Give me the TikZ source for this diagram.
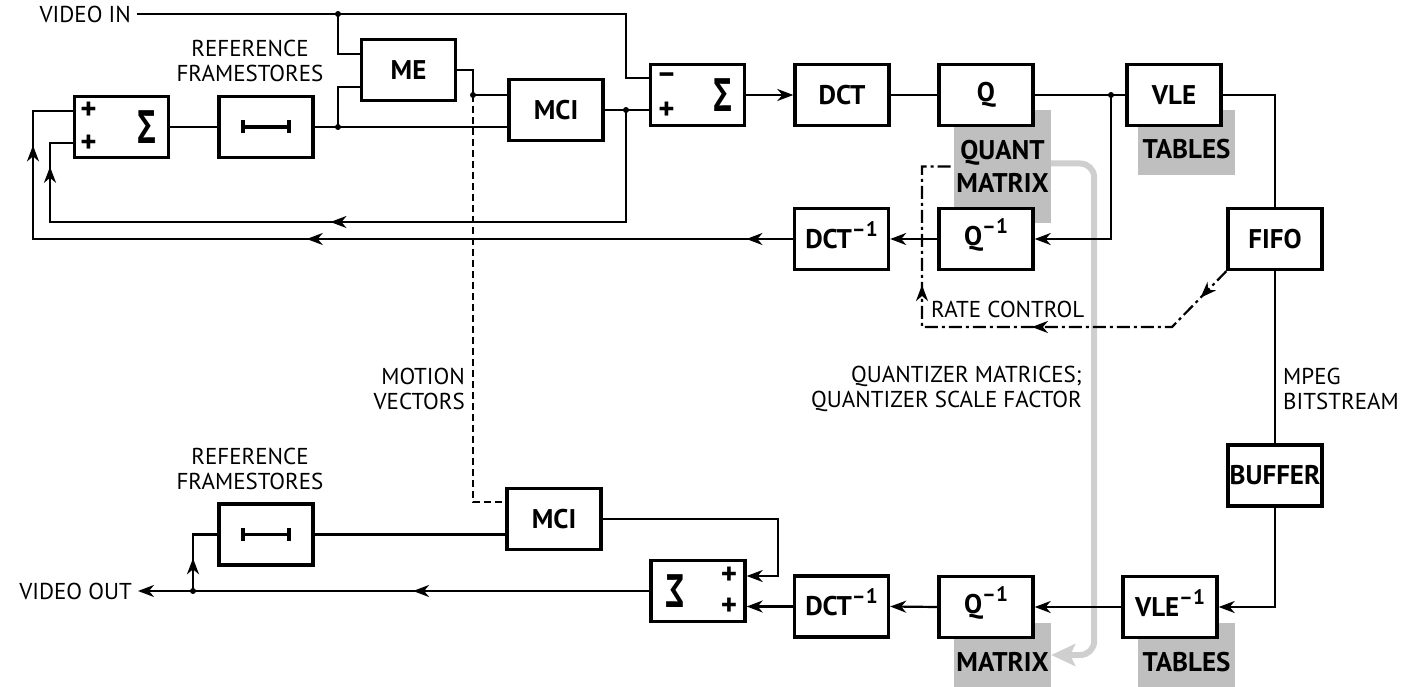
\documentclass[tikz,border=0pt]{standalone}
\usepackage{fontspec}
\usepackage{graphicx}
\setmainfont{PT Sans}
\newfontfamily\greekfont{Open Sans}
\usetikzlibrary{arrows.meta,decorations.markings}

\definecolor{boxgray}{gray}{0.75}
\definecolor{pathgray}{gray}{0.81}

\newcommand{\lbl}{\fontsize{23}{25}\selectfont}
\newcommand{\bx}{\fontsize{27}{33}\selectfont\bfseries}
\newcommand{\inv}{\smash{\raisebox{12pt}{\fontsize{21}{21}\selectfont –1}}}
\newcommand{\sgm}{\scalebox{0.8}[1.15]{\greekfont\bfseries\fontsize{40}{40}\selectfont Σ}}

\tikzset{
  block/.style={draw, line width=3.4pt, fill=white, minimum width=94pt, minimum height=61pt, inner sep=0pt, font=\bx},
  graybox/.style={fill=boxgray, minimum width=97pt, inner sep=0pt, font=\bx, align=center},
  wire/.style={line width=2.2pt},
  arr/.style={wire, -{Stealth[length=16pt,width=12pt,inset=5pt]}},
  arrowat/.style={postaction={decorate, decoration={markings, mark=at position #1 with {\arrow{Stealth[length=16pt,width=12pt,inset=5pt]}}}}},
  ctrl/.style={line width=2.2pt, dash pattern=on 13pt off 4pt on 3pt off 4pt},
  mvec/.style={line width=2.2pt, dash pattern=on 7pt off 4pt},
  txt/.style={font=\lbl, align=center, inner sep=0pt},
  sym/.style={font=\fontsize{31}{31}\selectfont\bfseries, inner sep=0pt},
}

\begin{document}
\begin{tikzpicture}[x=1pt,y=-1pt]
  \useasboundingbox (0,0) rectangle (1406,687);

  % tables behind the coders
  \node[graybox, minimum height=113pt] (qmat) at (1002.5,166.5) {QUANT\\MATRIX};
  \node[graybox, minimum height=65pt, label={[font=\bx,yshift=-6.5pt]center:TABLES}] (tab1) at (1186.5,142.5) {};
  \node[graybox, minimum height=64pt, label={[font=\bx,yshift=-7pt]center:MATRIX}] (mat2) at (1002.5,655) {};
  \node[graybox, minimum height=64pt, label={[font=\bx,yshift=-7pt]center:TABLES}] (tab2) at (1186.5,655) {};

  % side information to the decoder
  \draw[line width=6pt, pathgray, rounded corners=14pt, -{Stealth[length=24pt,width=22pt,inset=5pt]}] ([yshift=3pt]qmat.east) -- ++(43,0) |- (mat2.east);

  % encoder
  \node[block] (sum1) at (121.5,127) {};
  \node[block] (fs1) at (266,127) {};
  \node[block] (me) at (408.5,70) {ME};
  \node[block] (mci1) at (556,110) {MCI};
  \node[block] (sum2) at (697.5,95) {};
  \node[block] (dct) at (842,95) {DCT};
  \node[block] (q) at (986,95) {Q};
  \node[block] (vle) at (1174,95) {VLE};
  \node[block] (qi1) at (986,239) {Q\inv};
  \node[block] (dcti1) at (841.5,239) {DCT\inv};
  \node[block] (fifo) at (1275,239) {FIFO};

  % decoder
  \node[block] (buffer) at (1275,475.5) {BUFFER};
  \node[block] (vlei) at (1170,607) {VLE\inv};
  \node[block] (qi2) at (986,607) {Q\inv};
  \node[block] (dcti2) at (841.5,606.5) {DCT\inv};
  \node[block] (sum3) at (698,591) {};
  \node[block] (mci2) at (554,519) {MCI};
  \node[block] (fs2) at (266,534.5) {};

  % adder signs
  \node[sym] at ([xshift=-33pt,yshift=16pt]sum1.center) {+};
  \node[sym] at ([xshift=-33pt,yshift=-17pt]sum1.center) {+};
  \node at ([xshift=25pt]sum1.center) {\sgm};
  \node[sym] at ([xshift=-31pt,yshift=17pt]sum2.center) {–};
  \node[sym] at ([xshift=-31pt,yshift=-16pt]sum2.center) {+};
  \node at ([xshift=25pt]sum2.center) {\sgm};
  \node at ([xshift=-23pt]sum3.center) {\reflectbox{\sgm}};
  \node[sym] at ([xshift=31pt,yshift=15pt]sum3.center) {+};
  \node[sym] at ([xshift=31pt,yshift=-16pt]sum3.center) {+};

  % framestore symbols
  \foreach \f in {fs1,fs2}
    \draw[line width=3.8pt, {Bar[width=13pt]}-{Bar[width=13pt]}] ([xshift=-25pt]\f.center) -- ([xshift=25pt]\f.center);

  % texts
  \node[txt, anchor=east, inner xsep=6pt] (vin) at (137,14) {VIDEO IN};
  \node[txt] (ref1) at (250,60.5) {REFERENCE\\FRAMESTORES};
  \node[txt] (ref2) at (250,469) {REFERENCE\\FRAMESTORES};
  \node[txt, align=right, anchor=east] (mv) at (465,388.5) {MOTION\\VECTORS};
  \node[txt, align=right, anchor=east] (qm) at (1082,388.5) {QUANTIZER MATRICES;\\QUANTIZER SCALE FACTOR};
  \node[txt, align=left, anchor=west] (mpeg) at (1283,388.5) {MPEG\\BITSTREAM};
  \node[txt, anchor=west] (rc) at (931,309) {RATE CONTROL};
  \node[txt, anchor=east, inner xsep=6pt] (vout) at (138,591) {VIDEO OUT};

  % junctions and corners
  \coordinate (j1) at (338,14);
  \coordinate (j2) at (338,127);
  \coordinate (j3) at (473,95);
  \coordinate (j4) at (626,110);
  \coordinate (j5) at (1111,95);
  \coordinate (j6) at (193,591);
  \coordinate (lp1) at (50,222);
  \coordinate (lp2) at (33,239);
  \coordinate (rc1) at (1172,327);
  \coordinate (rc2) at (922,327);

  % encoder connections
  \draw[wire] (vin.east) -- (j1) -- (j1 -| j4) |- ([yshift=17pt]sum2.west);
  \draw[wire] (j1) |- ([yshift=16pt]me.west);
  \draw[wire] (sum1.east) -- (fs1.west);
  \draw[wire] (fs1.east) -- (fs1.east -| mci1.west);
  \draw[wire] (j2) |- ([yshift=-17pt]me.west);
  \draw[wire] (me.east) -| (j3) -- (j3 -| mci1.west);
  \draw[mvec] (j3) |- ([yshift=17pt]mci2.west);
  \draw[wire] (mci1.east) -- (j4 -| sum2.west);
  \draw[wire, arrowat=0.516, arrowat=0.941] (j4) |- (lp1) |- ([yshift=-16pt]sum1.west);
  \draw[arr] (sum2.east) -- (dct.west);
  \draw[wire] (dct.east) -- (q.west);
  \draw[wire] (q.east) -- (vle.west);
  \draw[arr] (j5) |- (qi1.east);
  \draw[wire] (vle.east) -| (fifo.north);
  \draw[arr] (qi1.west) -- (dcti1.east);
  \draw[wire, arrowat=0.05, arrowat=0.524, arrowat=0.92] (dcti1.west) -- (lp2) |- ([yshift=16pt]sum1.west);
  \draw[ctrl, arrowat=0.071, arrowat=0.419, arrowat=0.711] (fifo.south west) -- (rc1) -- (rc2) |- (qmat.west);

  % decoder connections
  \draw[wire] (fifo.south) -- (buffer.north);
  \draw[arr] (buffer.south) |- (vlei.east);
  \draw[arr] (vlei.west) -- (qi2.east);
  \draw[arr] (qi2.west) -- (dcti2.east);
  \draw[arr] (dcti2.west) -- (dcti2.west -| sum3.east);
  \draw[arr] (mci2.east) -- ++(175,0) |- ([yshift=15pt]sum3.east);
  \draw[arr, arrowat=0.462] (sum3.west) -- (vout.east);
  \draw[wire, arrowat=0.405] (j6) |- (fs2.west);
  \draw[wire] (fs2.east) -- (fs2.east -| mci2.west);

  \foreach \j in {j1,j2,j3,j4,j5,j6}
    \fill (\j) circle (3pt);
\end{tikzpicture}
\end{document}
